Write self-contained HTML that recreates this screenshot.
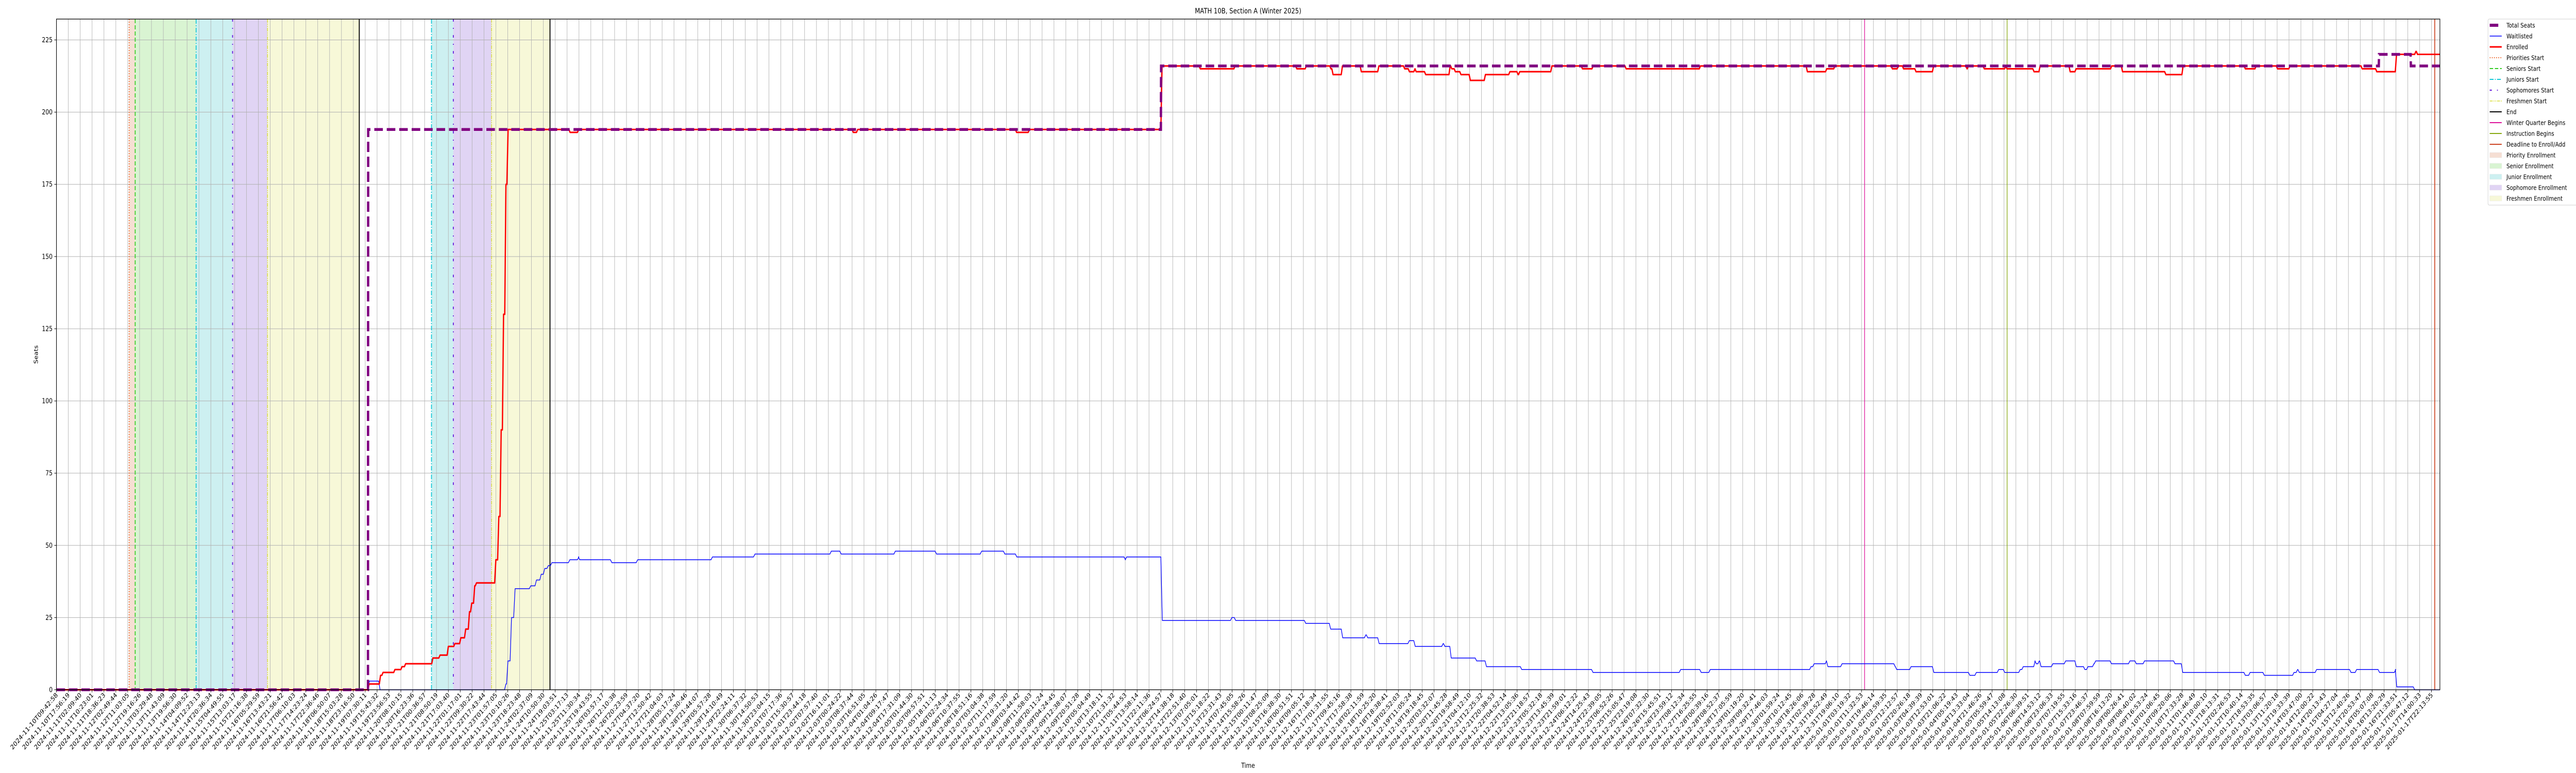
<!DOCTYPE html>
<html><head><meta charset="utf-8"><title>MATH 10B enrollment</title>
<style>
html,body{margin:0;padding:0;background:#fff;width:100vw;height:100vh;overflow:hidden;}
svg{display:block;width:100vw;height:100vh;font-family:"DejaVu Sans","Liberation Sans",sans-serif;overflow:hidden;}
</style></head>
<body>
<svg id="chart" xmlns="http://www.w3.org/2000/svg" viewBox="0 0 6000 1500" preserveAspectRatio="none">
<defs><clipPath id="pageclip"><rect x="0" y="0" width="6000" height="1500"/></clipPath></defs>
<g clip-path="url(#pageclip)">
<rect x="0" y="0" width="6000" height="1500" fill="#fff"/>
<g id="shades"></g>
<g id="grid"></g>
<g id="events"></g>
<g id="series"></g>
<g id="axes"></g>
<text x="2907" y="26" text-anchor="middle" font-size="14">MATH 10B, Section A (Winter 2025)</text>
<text x="2907" y="1490" text-anchor="middle" font-size="13">Time</text>
<text x="0" y="0" transform="translate(88,688) rotate(-90)" text-anchor="middle" font-size="13">Seats</text>
<g id="legend"></g>
</g>
</svg>
<script>
// ---- data (x = sample index along axis, 0..200 tick positions) ----
const tickStart = "2024-11-10T09:42:58";
const tickEnd = "2025-01-17T22:13:55";
const tickCount = 201;
const yTicks = [0,25,50,75,100,125,150,175,200,225];

const totalT = [0, 26.23, 93.0, 195.56, 198.24];
const totalV = [0, 194, 216, 220, 216];

const enrolledT = [0,26.23,27.19,27.4,28.4,29.0,29.3,31.6,32.2,32.9,33.45,33.95,34.36,34.68,34.87,35.12,35.27,36.9,37.15,37.35,37.55,37.75,37.93,43.15,43.87,67.0,67.37,80.75,81.83,93.0,96.22,99.15,104.35,105.15,107.22,107.4,108.19,109.78,111.26,113.43,113.83,114.3,114.4,115.2,117.26,117.4,117.7,118.17,118.96,120.23,122.29,122.98,123.12,125.83,128.4,129.3,132.08,138.34,147.34,148.97,149.66,154.5,155.0,155.44,156.49,157.97,160.79,160.9,162.24,164.05,164.15,166.43,166.94,169.47,169.97,172.97,173.88,177.53,178.98,184.22,185.13,186.93,187.98,194.06,195.29,196.95,198.58,198.72];
const enrolledV = [0,2,5,6,7,8,9,11,12,15,16,18,21,27,30,36,37,45,60,90,130,175,194,193,194,193,194,193,194,216,215,216,215,216,215,213,216,214,216,215,214,215,214,213,216,215,214,213,211,213,214,213,214,216,215,216,215,216,214,215,216,215,216,215,214,216,215,216,215,216,215,214,216,214,215,216,214,213,216,215,216,215,216,215,214,220,221,220];

const waitT = [0,26.23,27.13,37.73,37.9,38.2,38.5,39.82,40.3,40.7,41.0,41.3,41.6,43.11,43.87,43.95,46.65,48.82,55.12,58.7,65.13,65.96,70.52,73.99,77.79,79.74,80.75,89.9,90.0,93.0,98.86,99.18,105.08,107.18,108.19,110.14,110.3,111.26,113.8,114.3,116.65,116.8,117.33,119.47,120.3,123.27,129.27,136.65,138.38,139.14,147.63,147.89,148.94,149.05,150.24,154.72,154.85,156.05,157.97,161.0,161.55,163.43,163.94,165.24,165.5,166.5,166.6,166.85,167.0,167.99,169.07,169.97,170.69,170.95,171.45,171.6,172.93,174.48,175.02,175.71,178.28,178.93,184.2,184.6,185.8,188.3,188.6,188.75,190.2,193.1,193.57,195.5,196.87,196.95,198.46];
const waitV = [0,3,0,2,10,25,35,36,38,40,42,43,44,45,46,45,44,45,46,47,48,47,48,47,48,47,46,45,46,24,25,24,23,21,18,19,18,16,17,15,16,15,11,10,8,7,6,7,6,7,8,9,10,8,9,8,7,8,6,5,6,7,6,7,8,10,9,10,8,9,10,8,7,8,9,10,9,10,9,10,9,6,5,6,5,6,7,6,7,6,7,6,7,1,0];

const eventNames = ["Priorities Start","Seniors Start","Juniors Start","Sophomores Start","Freshmen Start","End","Juniors Start","Sophomores Start","Freshmen Start","End","Winter Quarter Begins","Instruction Begins","Deadline to Enroll/Add"];
const eventT = [6.12,6.63,11.76,14.83,17.77,25.50,31.58,33.42,36.64,41.56,152.26,164.26,200.27];

const periodNames = ["Priority Enrollment","Senior Enrollment","Junior Enrollment","Sophomore Enrollment","Freshmen Enrollment","Junior Enrollment","Sophomore Enrollment","Freshmen Enrollment"];
const periodStart = [6.12,6.63,11.76,14.83,17.77,31.58,33.42,36.64];
const periodEnd = [6.63,11.76,14.83,17.77,25.50,33.42,36.64,41.56];

// ---- styling / scales ----
const NS = "http://www.w3.org/2000/svg";
const X0 = 131.5, XR = 5683, YT = 37, Y0 = 1338.5;
const PX_PER_T = 27.66, PX_PER_V = 5.6044;
const xs = t => X0 + t * PX_PER_T;
const ys = v => Y0 - v * PX_PER_V;
const evStyle = {
 "Priorities Start": ["#ee6a2f","2 3",2],
 "Seniors Start": ["#33cc22","8 4",2],
 "Juniors Start": ["#11c8d6","9 3 2 3",2],
 "Sophomores Start": ["#6a22dd","5 12 2 12",2.2],
 "Freshmen Start": ["#d8dd33","7 2 2 2 2 2",1.6],
 "End": ["#000","",2.2],
 "Winter Quarter Begins": ["#dd1199","",1.5],
 "Instruction Begins": ["#88aa11","",1.5],
 "Deadline to Enroll/Add": ["#cc4422","",2]
};
const periodColor = {
 "Priority Enrollment":"#f6dfd3","Senior Enrollment":"#d9f4d2","Junior Enrollment":"#cdf0f1",
 "Sophomore Enrollment":"#e0d4f4","Freshmen Enrollment":"#f7f8d8"
};
function mk(tag, attrs, parent){
  const e = document.createElementNS(NS, tag);
  for (const k in attrs) e.setAttribute(k, attrs[k]);
  parent.appendChild(e); return e;
}
function kebab(s){return s.toLowerCase().replace(/[^a-z0-9]+/g,'-').replace(/-$/,'');}

// shaded periods
const gS = document.getElementById('shades');
for (let i=0;i<periodNames.length;i++){
  const r = mk('rect',{x:xs(periodStart[i]),y:YT,width:xs(periodEnd[i])-xs(periodStart[i]),height:Y0-YT,fill:periodColor[periodNames[i]]},gS);
  
  
}

// grid + ticks
const gG = document.getElementById('grid');
const gA = document.getElementById('axes');
const sMs = Date.parse(tickStart+"Z"), eMs = Date.parse(tickEnd+"Z");
for (let i=0;i<tickCount;i++){
  const x = xs(i);
  const gl = mk('line',{x1:x,x2:x,y1:YT,y2:Y0,stroke:"#b0b0b0","stroke-width":1},gG);
  
  
  const tk = mk('line',{x1:x,x2:x,y1:Y0,y2:Y0+5,stroke:"#000","stroke-width":1},gA);
  
  
  const d = new Date(sMs + (eMs - sMs) * i / (tickCount-1));
  const lbl = d.toISOString().slice(0,19);
  const tx = mk('text',{x:0,y:0,transform:`translate(${x+4},${Y0+11}) rotate(-45)`,"text-anchor":"end","font-size":12.5,textLength:150,lengthAdjust:"spacingAndGlyphs",fill:"#000"},gA);
  tx.textContent = lbl;
  
  
}
for (const v of yTicks){
  const y = ys(v);
  const gl = mk('line',{x1:X0,x2:XR,y1:y,y2:y,stroke:"#b0b0b0","stroke-width":1},gG);
  
  
  const tk = mk('line',{x1:X0-5,x2:X0,y1:y,y2:y,stroke:"#000","stroke-width":1},gA);
  
  
  const tx = mk('text',{x:X0-9,y:y+4.5,"text-anchor":"end","font-size":13},gA);
  tx.textContent = String(v);
  
  
}

// event lines
const gE = document.getElementById('events');
for (let i=0;i<eventT.length;i++){
  const st = evStyle[eventNames[i]];
  const x = xs(eventT[i]);
  const a = {x1:x,x2:x,y1:YT,y2:Y0,stroke:st[0],"stroke-width":st[2]};
  if (st[1]) a["stroke-dasharray"] = st[1];
  const l = mk('line',a,gE);
  
  
}

// series
function stepPath(T,V,ramp){
  let d = `M${xs(T[0])},${ys(V[0])}`;
  for (let i=1;i<T.length;i++){
    d += ` L${xs(T[i])},${ys(V[i-1])} L${xs(T[i]+ramp)},${ys(V[i])}`;
  }
  d += ` L${XR},${ys(V[V.length-1])}`;
  return d;
}
const gSer = document.getElementById('series');
const pw = mk('path',{d:stepPath(waitT,waitV,0.12),fill:"none",stroke:"#0000ff","stroke-width":1.5,"stroke-linejoin":"round"},gSer);


const pe = mk('path',{d:stepPath(enrolledT,enrolledV,0.1),fill:"none",stroke:"#ff0000","stroke-width":3,"stroke-linejoin":"round"},gSer);


const pt = mk('path',{d:stepPath(totalT,totalV,0.02),fill:"none",stroke:"#800080","stroke-width":5.5,"stroke-dasharray":"20 9"},gSer);



// spines
const sp = mk('rect',{x:X0,y:YT,width:XR-X0,height:Y0-YT,fill:"none",stroke:"#000","stroke-width":1.3},gA);



// legend
const gL = document.getElementById('legend');
const lb = mk('rect',{x:5795,y:37,width:215,height:361,rx:3,fill:"#fff","fill-opacity":0.8,stroke:"#d0d0d0","stroke-width":1},gL);


const legItems = [
 ["Total Seats","line","#800080","",6],
 ["Waitlisted","line","#0000ff","",1.5],
 ["Enrolled","line","#ff0000","",3],
 ["Priorities Start","line","#ee6a2f","2 3",2],
 ["Seniors Start","line","#33cc22","8 4",2],
 ["Juniors Start","line","#11c8d6","9 3 2 3",2],
 ["Sophomores Start","line","#6a22dd","5 12 2 12",2.2],
 ["Freshmen Start","line","#d8dd33","7 2 2 2 2 2",1.6],
 ["End","line","#000","",2],
 ["Winter Quarter Begins","line","#dd1199","",2],
 ["Instruction Begins","line","#88aa11","",2],
 ["Deadline to Enroll/Add","line","#cc4422","",2],
 ["Priority Enrollment","patch","#f6dfd3"],
 ["Senior Enrollment","patch","#d9f4d2"],
 ["Junior Enrollment","patch","#cdf0f1"],
 ["Sophomore Enrollment","patch","#e0d4f4"],
 ["Freshmen Enrollment","patch","#f7f8d8"]
];
for (let i=0;i<legItems.length;i++){
  const it = legItems[i];
  const y = 49 + i*21;
  const g = mk('g',{},gL);
  
  
  if (it[1]==="line"){
    const a = {x1:5799,x2:5827,y1:y,y2:y,stroke:it[2],"stroke-width":it[4]};
    if (it[3]) a["stroke-dasharray"]=it[3];
    if (i===0){a.x2=5819;}
    mk('line',a,g);
  } else {
    mk('rect',{x:5799,y:y-5,width:28,height:10,fill:it[2],stroke:"#e6e6e6","stroke-width":0.5},g);
  }
  const t = mk('text',{x:5838,y:y+4.5,"font-size":12.3,fill:"#000"},g);
  t.textContent = it[0];
}
</script>
</body></html>
